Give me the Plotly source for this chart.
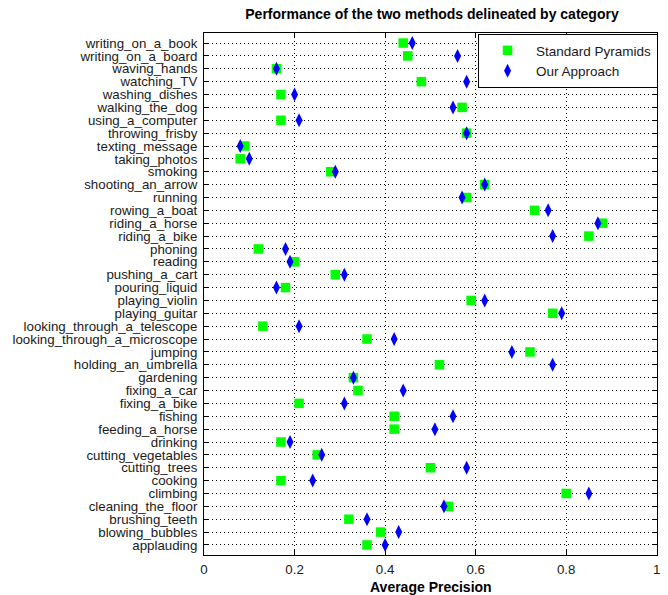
import plotly.graph_objects as go

categories = [
    "applauding", "blowing_bubbles", "brushing_teeth", "cleaning_the_floor", "climbing",
    "cooking", "cutting_trees", "cutting_vegetables", "drinking", "feeding_a_horse",
    "fishing", "fixing_a_bike", "fixing_a_car", "gardening", "holding_an_umbrella",
    "jumping", "looking_through_a_microscope", "looking_through_a_telescope", "playing_guitar", "playing_violin",
    "pouring_liquid", "pushing_a_cart", "reading", "phoning", "riding_a_bike",
    "riding_a_horse", "rowing_a_boat", "running", "shooting_an_arrow", "smoking",
    "taking_photos", "texting_message", "throwing_frisby", "using_a_computer", "walking_the_dog",
    "washing_dishes", "watching_TV", "waving_hands", "writing_on_a_board", "writing_on_a_book",
]

standard_pyramids = [
    0.36, 0.39, 0.32, 0.54, 0.80,
    0.17, 0.50, 0.25, 0.17, 0.42,
    0.42, 0.21, 0.34, 0.33, 0.52,
    0.72, 0.36, 0.13, 0.77, 0.59,
    0.18, 0.29, 0.20, 0.12, 0.85,
    0.88, 0.73, 0.58, 0.62, 0.28,
    0.08, 0.09, 0.58, 0.17, 0.57,
    0.17, 0.48, 0.16, 0.45, 0.44,
]

our_approach = [
    0.40, 0.43, 0.36, 0.53, 0.85,
    0.24, 0.58, 0.26, 0.19, 0.51,
    0.55, 0.31, 0.44, 0.33, 0.77,
    0.68, 0.42, 0.21, 0.79, 0.62,
    0.16, 0.31, 0.19, 0.18, 0.77,
    0.87, 0.76, 0.57, 0.62, 0.29,
    0.10, 0.08, 0.58, 0.21, 0.55,
    0.20, 0.58, 0.16, 0.56, 0.46,
]

x_ticks = [0, 0.2, 0.4, 0.6, 0.8, 1]
x_ticklabels = ["0", "0.2", "0.4", "0.6", "0.8", "1"]

FONT = "Liberation Sans, Arial, sans-serif"
TXT = "#1a1a1a"

fig = go.Figure()
fig.add_trace(go.Scatter(
    x=standard_pyramids, y=categories, mode="markers", name="Standard Pyramids",
    marker=dict(symbol="square", size=9.5, color="#00FF00", line=dict(width=0)),
))
fig.add_trace(go.Scatter(
    x=our_approach, y=categories, mode="markers", name="Our Approach",
    marker=dict(symbol="diamond-tall", size=10, color="#0000FF", line=dict(width=0)),
))

fig.update_layout(
    width=668, height=595,
    margin=dict(l=204, r=8, t=33, b=40, pad=0),
    paper_bgcolor="white", plot_bgcolor="white",
    font=dict(family=FONT, size=13, color=TXT),
    title=dict(
        text="<b>Performance of the two methods delineated by category</b>",
        x=(204 + 660) / 2 / 668, xanchor="center", y=1 - 14 / 595, yanchor="middle",
        font=dict(family=FONT, size=14, color="black"),
    ),
    showlegend=True,
    legend=dict(
        x=0.605, xanchor="left", y=0.998, yanchor="top",
        bgcolor="white", bordercolor="black", borderwidth=1,
        font=dict(family=FONT, size=13.5, color=TXT),
        itemsizing="trace", itemwidth=47,
    ),
    annotations=[dict(
        text="<b>Average Precision</b>", xref="paper", yref="paper",
        x=0.5, y=-32 / 522, xanchor="center", yanchor="middle", showarrow=False,
        font=dict(family=FONT, size=14, color="black"),
    )],
)

fig.update_xaxes(
    range=[0, 1.0005], tickmode="array", tickvals=x_ticks, ticktext=x_ticklabels,
    showgrid=True, gridcolor="black", griddash="1px,3px", gridwidth=1,
    showline=True, linecolor="black", linewidth=1, mirror="ticks",
    ticks="inside", ticklen=5, tickcolor="black",
    zeroline=False, ticklabelstandoff=2,
    tickfont=dict(family=FONT, size=13.3, color=TXT),
)
fig.update_yaxes(
    type="category", categoryorder="array", categoryarray=categories,
    tickmode="array", tickvals=categories, ticktext=categories,
    range=[-0.78, len(categories) - 0.22],
    showgrid=True, gridcolor="black", griddash="1px,3px", gridwidth=1,
    showline=True, linecolor="black", linewidth=1, mirror="ticks",
    ticks="inside", ticklen=5, tickcolor="black",
    zeroline=False, ticklabelstandoff=3,
    tickfont=dict(family=FONT, size=13.3, color=TXT),
)

fig.write_html(
    "out.html",
    config={"displayModeBar": False},
    post_script="document.body.style.margin='0px';",
)
